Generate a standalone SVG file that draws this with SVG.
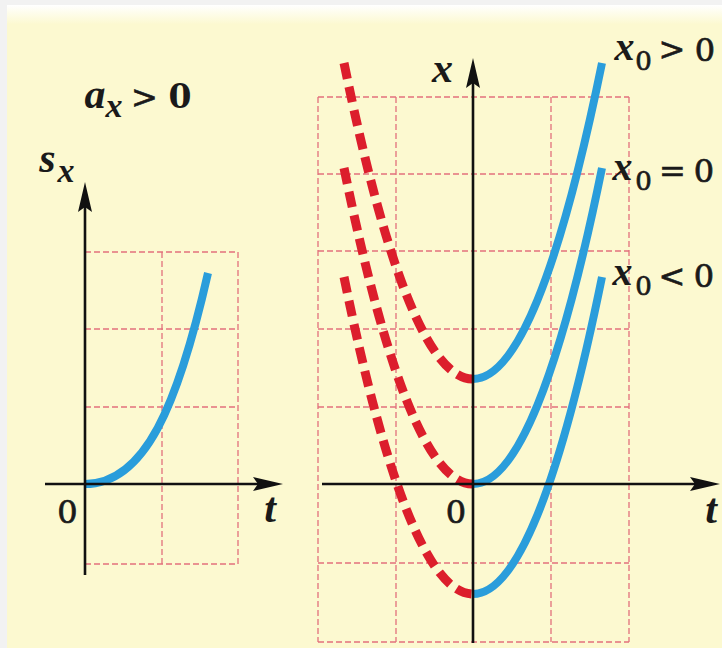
<svg xmlns="http://www.w3.org/2000/svg" width="722" height="648" viewBox="0 0 722 648">
<style>
.grid{fill:none;stroke:#e2707c;stroke-width:1.3;stroke-dasharray:6 3}
.axis{stroke:#111;stroke-width:2.6;fill:none}
.blue{fill:none;stroke:#2a9ddb;stroke-width:8;stroke-linecap:butt}
.red{fill:none;stroke:#dc1e2c;stroke-width:9;stroke-dasharray:16 8}
text{fill:#1a1a1a;text-anchor:middle}
.num{stroke:#1a1a1a;stroke-width:0.7}
</style>
<defs>
<linearGradient id="bgv" x1="0" y1="0" x2="0" y2="1">
<stop offset="0" stop-color="#ffffff"/>
<stop offset="0.03" stop-color="#fcf9d0"/>
<stop offset="1" stop-color="#fcf9d0"/>
</linearGradient>
<marker id="ah" viewBox="0 0 30 14" refX="20" refY="7" markerWidth="30" markerHeight="14" markerUnits="userSpaceOnUse" orient="auto">
<path d="M0,0 L30,7 L0,14 L5,7 Z" fill="#111"/>
</marker>
</defs>
<rect x="0" y="0" width="722" height="648" fill="#f2f2f2"/>
<rect x="7" y="5" width="715" height="643" fill="url(#bgv)"/>

<g id="left-chart">
<g id="left-grid">
<path class="grid" d="M85,252 H238 M85,329 H238 M85,407 H238 M85,564 H238 M162,252 V564 M238,252 V564"/>
</g>
<g id="left-curve">
<path class="blue" d="M85,484 C145,484 178,405 208,273"/>
</g>
<g id="left-axes">
<line class="axis" x1="85" y1="575" x2="85" y2="192" marker-end="url(#ah)"/>
<line class="axis" x1="45" y1="484" x2="273" y2="484" marker-end="url(#ah)"/>
</g>
<g id="left-labels">
<text font-family="'Liberation Serif', serif" font-size="34"><tspan x="95" y="108" font-size="42" font-style="italic" font-weight="bold">a</tspan><tspan x="114" y="117" font-size="34" font-style="italic" font-weight="bold">x</tspan><tspan x="144.5" y="108" font-family="'DejaVu Serif', serif" font-size="32" class="num">&gt;</tspan><tspan x="180" y="108" font-family="'DejaVu Serif', serif" font-size="33" font-weight="bold">0</tspan></text>
<text font-family="'Liberation Serif', serif" font-style="italic" font-weight="bold"><tspan x="47.5" y="172" font-size="42">s</tspan><tspan x="66" y="182" font-size="34">x</tspan></text>
<text class="num" font-family="'DejaVu Serif', serif" font-size="32" x="67.5" y="523">0</text>
<text font-family="'Liberation Serif', serif" font-style="italic" font-weight="bold" font-size="42" x="270" y="522">t</text>
</g>
</g>

<g id="right-chart">
<g id="right-grid">
<path class="grid" d="M318,97 H629 M318,174 H629 M318,251 H629 M318,329 H629 M318,407 H629 M318,563 H629 M318,642 H629 M318,97 V642 M396,97 V642 M551,97 V642 M629,97 V642"/>
</g>
<g id="red-curves">
<path class="red" d="M344,63 Q408.5,379 473,379"/>
<path class="red" d="M344,168 Q408.5,484 473,484"/>
<path class="red" d="M344,277 Q408.5,594 473,594"/>
</g>
<g id="blue-curves">
<path class="blue" d="M473,379 Q537.5,379 602,63"/>
<path class="blue" d="M473,484 Q537.5,484 602,168"/>
<path class="blue" d="M473,594 Q537.5,594 602,277"/>
</g>
<g id="right-axes">
<line class="axis" x1="473" y1="643" x2="473" y2="68" marker-end="url(#ah)"/>
<line class="axis" x1="322" y1="484" x2="710" y2="484" marker-end="url(#ah)"/>
</g>
<g id="right-labels">
<text font-family="'Liberation Serif', serif" font-style="italic" font-weight="bold" font-size="42" x="442.5" y="82">x</text>
<text class="num" font-family="'DejaVu Serif', serif" font-size="32" x="456" y="523">0</text>
<text font-family="'Liberation Serif', serif" font-style="italic" font-weight="bold" font-size="42" x="711" y="523">t</text>
<text class="num" font-family="'DejaVu Serif', serif" font-size="32"><tspan x="624.5" y="60" font-family="'Liberation Serif', serif" font-style="italic" font-weight="bold" font-size="40" stroke-width="0">x</tspan><tspan x="643.5" y="70" font-size="26">0</tspan><tspan x="672" y="60">&gt;</tspan><tspan x="705" y="61">0</tspan></text>
<text class="num" font-family="'DejaVu Serif', serif" font-size="32"><tspan x="622.5" y="180" font-family="'Liberation Serif', serif" font-style="italic" font-weight="bold" font-size="40" stroke-width="0">x</tspan><tspan x="643.5" y="190" font-size="26">0</tspan><tspan x="672.5" y="182">=</tspan><tspan x="704" y="182">0</tspan></text>
<text class="num" font-family="'DejaVu Serif', serif" font-size="32"><tspan x="622.5" y="285" font-family="'Liberation Serif', serif" font-style="italic" font-weight="bold" font-size="40" stroke-width="0">x</tspan><tspan x="643.5" y="295" font-size="26">0</tspan><tspan x="672" y="287">&lt;</tspan><tspan x="704" y="287">0</tspan></text>
</g>
</g>
</svg>
